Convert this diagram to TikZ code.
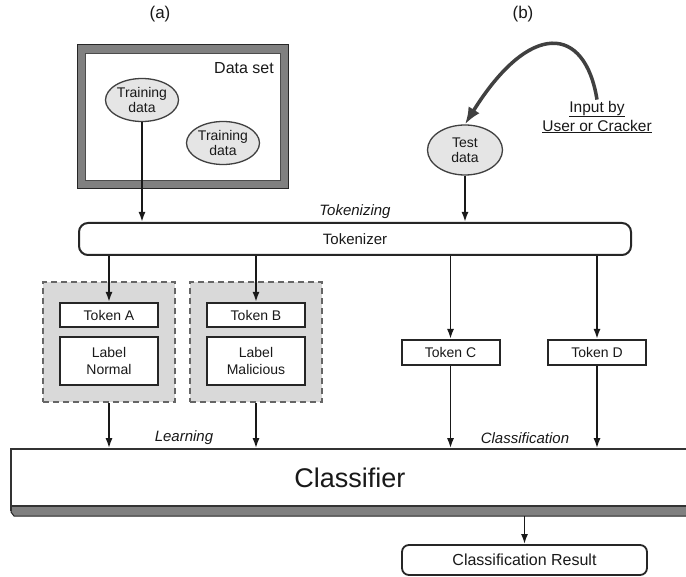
\documentclass[tikz,border=0pt]{standalone}
\usepackage{fontspec}
\setmainfont{Liberation Sans}
\usetikzlibrary{shapes.geometric,arrows.meta}
\newcommand{\fsz}[1]{\fontsize{#1}{#1}\selectfont}
\begin{document}
\begin{tikzpicture}[x=1pt,y=-1pt,
 every node/.style={text=black!90},
 arr/.style={line width=1.8pt, draw=black!90, -{Latex[length=10pt,width=7pt]}},
 ell/.style={ellipse, draw=black!75, line width=1.3pt, fill=black!10, minimum width=73pt, minimum height=43pt, inner sep=0pt, align=center, font=\fontsize{14}{15}\selectfont},
 tokbox/.style={draw=black!85, line width=2pt, fill=white, minimum width=98pt, minimum height=24pt, inner sep=0pt, font=\fsz{14}},
 lblbox/.style={tokbox, minimum height=48pt, align=center, font=\fontsize{14}{17}\selectfont},
 grp/.style={draw=black!60, dash pattern=on 6pt off 4pt, line width=1.6pt, fill=black!15, minimum width=132pt, minimum height=120pt, inner sep=0pt},
 lab/.style={font=\itshape\fsz{15}},
]
\useasboundingbox (0,0) rectangle (686,577);
\clip (0,0) rectangle (686,577);
\fill[white] (0,0) rectangle (686,577);

% titles
\node[font=\fsz{17}] (ta) at (160,14) {(a)};
\node[font=\fsz{17}] (tb) at (523,14) {(b)};

% data set
\node[draw=black!85, fill=black!50, line width=1pt, minimum width=211pt, minimum height=144pt, inner sep=0pt] (ds) at (182.5,117) {};
\node[draw=black!70, fill=white, line width=0.8pt, minimum width=195pt, minimum height=127pt, inner sep=0pt] (dsin) at (182.5,116.5) {};
\node[font=\fsz{16}] (dsl) at (244,68) {Data set};
\node[ell] (td1) at (142,100) {Training\\data};
\node[ell] (td2) at (223,143) {Training\\data};

% test data and input
\node[ell, minimum width=75pt, minimum height=50pt] (test) at (465,150) {Test\\data};
\node[align=center, font=\fontsize{15.5}{19}\selectfont, inner sep=1pt] (inp) at (597,117) {\underline{Input by}\\\underline{User or Cracker}};
\draw[line width=3.5pt, draw=black!75, -{Latex[length=17pt,width=13pt]}] (inp.north) .. controls (585,25) and (530,20) .. (test.north);

% tokenizer
\node[draw=black!85, line width=2pt, rounded corners=9pt, fill=white, minimum width=552pt, minimum height=32pt, font=\fsz{15}] (tok) at (355,239) {Tokenizer};
\node[lab] (tokl) at (355,212) {Tokenizing};
\draw[arr] (td1.south) -- (td1.south |- tok.north);
\draw[arr] (test.south) -- (test.south |- tok.north);

% groups
\node[grp] (ga) at (109,342) {};
\node[grp] (gb) at (256,342) {};
\node[tokbox] (tka) at (109,315) {Token A};
\node[lblbox] (lba) at (109,361) {Label\\Normal};
\node[tokbox] (tkb) at (256,315) {Token B};
\node[lblbox] (lbb) at (256,361) {Label\\Malicious};
\node[tokbox, minimum height=25pt] (tkc) at (450.5,352.5) {Token C};
\node[tokbox, minimum height=25pt] (tkd) at (597,352.5) {Token D};

\draw[arr] (tok.south -| tka.north) -- (tka.north);
\draw[arr] (tok.south -| tkb.north) -- (tkb.north);
\draw[arr] (tok.south -| tkc.north) -- (tkc.north);
\draw[arr] (tok.south -| tkd.north) -- (tkd.north);

% classifier
\draw[draw=black!85, line width=1pt, fill=black!50] (11,504) -- (11,512) -- (14,516) -- (700,516) -- (700,504) -- cycle;
\node[draw=black!80, line width=1.5pt, fill=white, minimum width=678pt, minimum height=57pt, inner sep=0pt, font=\fsz{27}] (cls) at (350,477.5) {Classifier};
\draw[line width=2.5pt, draw=black!80] (11,449) -- (11,511);
\coordinate (slab) at (524.5,516);

\draw[arr] (ga.south) -- (ga.south |- cls.north);
\draw[arr] (gb.south) -- (gb.south |- cls.north);
\draw[arr] (tkc.south) -- (tkc.south |- cls.north);
\draw[arr] (tkd.south) -- (tkd.south |- cls.north);
\node[lab] (learn) at (184,438) {Learning};
\node[lab] (clsl) at (525,438) {Classification};

% result
\node[draw=black!85, line width=1.8pt, rounded corners=7pt, fill=white, minimum width=245pt, minimum height=30pt, font=\fsz{16}] (res) at (524.5,560) {Classification Result};
\draw[arr] (slab) -- (res.north);
\end{tikzpicture}
\end{document}
